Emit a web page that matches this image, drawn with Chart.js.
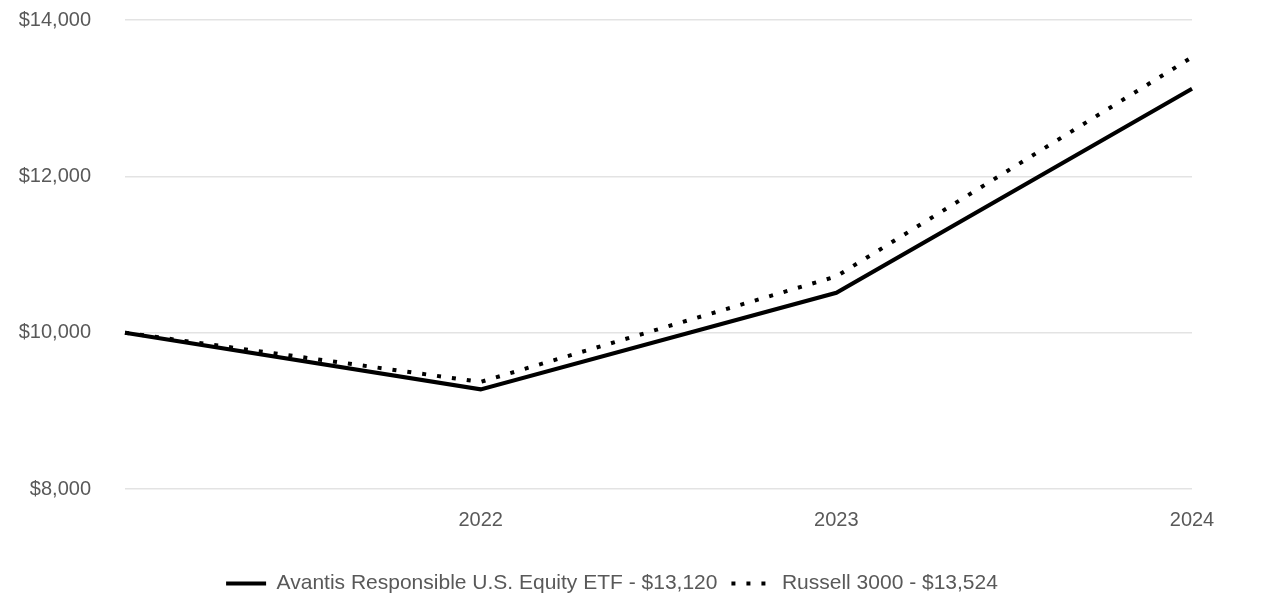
<html>
<head>
<style>
html, body {
  margin:0px;
  background:#ffffff;
}
</style>
<script src="https://cdn.jsdelivr.net/npm/chart.js@4/dist/chart.umd.min.js"></script>
</head>
<body>
<div style="position: relative; width:1286px; height:614px;">
<canvas id="myChart"></canvas>
</div>
<script>
// growth of $10,000
const years = ['', '2022', '2023', '2024'];
const avantis = [10000, 9275, 10510, 13120];
const russell = [10000, 9370, 10720, 13524];
const yTicks = [8000, 10000, 12000, 14000];

const textFont = "'Liberation Sans Narrow', 'Arial Narrow', 'Liberation Sans', sans-serif";
const grey = '#595959';

// nudge the legend a little to the right, like the original
const legendShift = {
  id: 'legendShift',
  afterLayout: function(chart) {
    chart.legend.left += 16;
    chart.legend.right += 16;
  }
};

const ctx = document.getElementById('myChart');
const myChart = new Chart(ctx, {
  type: 'line',
  data: {
    labels: years,
    datasets: [{
      data: avantis,
      label: 'Avantis Responsible U.S. Equity ETF - $13,120',
      borderColor: '#000000',
      backgroundColor: '#000000',
      borderWidth: 4,
      pointRadius: 0,
      fill: false
    }, {
      data: russell,
      label: 'Russell 3000 - $13,524',
      borderColor: '#000000',
      backgroundColor: '#000000',
      borderWidth: 4,
      borderDash: [4, 11],
      borderCapStyle: 'butt',
      pointRadius: 0,
      fill: false
    }]
  },
  plugins: [legendShift],
  options: {
    responsive: true,
    maintainAspectRatio: false,
    animation: false,
    layout: {
      padding: {top: 20, right: 94, bottom: 10, left: 0}
    },
    scales: {
      x: {
        offset: false,
        grid: {display: false},
        border: {display: false},
        afterFit: function(scale) { scale.height = 70; },
        ticks: {
          color: grey,
          font: {family: textFont, size: 20},
          padding: 11,
          maxRotation: 0
        }
      },
      y: {
        min: 8000,
        max: 14000,
        afterFit: function(scale) {
          scale.width = 125;
          scale.paddingTop = 0;    // keep tick padding from pushing the plot down
          scale.paddingBottom = 0;
        },
        afterBuildTicks: function(scale) {
          scale.ticks = yTicks.map(v => ({value: v}));
        },
        grid: {color: '#e3e3e3', lineWidth: 1.5, drawTicks: false},
        border: {display: false},
        ticks: {
          color: grey,
          font: {family: textFont, size: 20},
          padding: 34,
          callback: function(v) { return '$' + v.toLocaleString('en-US'); }
        }
      }
    },
    plugins: {
      legend: {
        position: 'bottom',
        labels: {
          color: grey,
          font: {family: textFont, size: 21},
          usePointStyle: true,
          pointStyle: 'line',
          pointStyleWidth: 40,
          boxHeight: 20,
          padding: 14,
          generateLabels: function(chart) {
            const items = Chart.defaults.plugins.legend.labels.generateLabels(chart);
            items.forEach(function(item) {
              const ds = chart.data.datasets[item.datasetIndex];
              item.lineDash = ds.borderDash || [];
              item.lineWidth = 4;
              item.lineCap = 'butt';
            });
            return items;
          }
        }
      },
      tooltip: {enabled: false}
    }
  }
});
</script>
</body>
</html>
